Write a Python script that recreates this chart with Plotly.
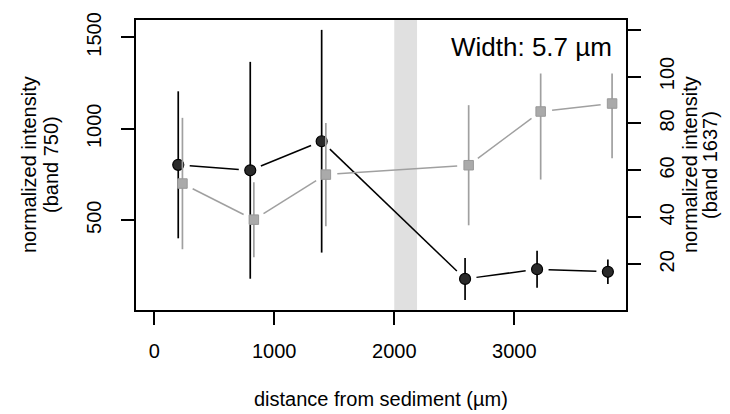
from math import hypot

import plotly.graph_objects as go

# band 750 (left axis), black circles
dist_750 = [200, 800, 1395, 2590, 3190, 3780]
int_750 = [803, 773, 932, 179, 232, 218]
err_750 = [402, 593, 609, 115, 101, 67]

# band 1637 (right axis), grey squares
dist_1637 = [235, 830, 1430, 2620, 3220, 3815]
int_1637 = [54.4, 39.0, 58.2, 62.2, 85.1, 88.5]
err_1637 = [28, 16, 22, 25.6, 29, 23.3]

band_um = [2000, 2190]
x_ticks = [0, 1000, 2000, 3000]
y1_ticks = [500, 1000, 1500]
y2_ticks = [20, 40, 60, 80, 100, 120]
y2_labels = ["20", "40", "60", "80", "100", ""]
width_label = "Width: 5.7 µm"

W, H = 730, 414
L, R, T, B = 136, 104, 14, 104
PW, PH = W - L - R, H - T - B
XR = [-152, 3931]
Y1R = [9, 1595]
Y2R = [0.5, 124.1]
GAP = 11.5  # px left open around each point, like R's type="b"

FONT = "Liberation Sans, Arial, sans-serif"
GREY = "#a0a0a0"


def gapped(xs, ys, yr):
    sx = PW / (XR[1] - XR[0])
    sy = PH / (yr[1] - yr[0])
    gx, gy = [], []
    for x0, y0, x1, y1 in zip(xs, ys, xs[1:], ys[1:]):
        f = GAP / hypot((x1 - x0) * sx, (y1 - y0) * sy)
        gx += [x0 + (x1 - x0) * f, x1 - (x1 - x0) * f, None]
        gy += [y0 + (y1 - y0) * f, y1 - (y1 - y0) * f, None]
    return gx, gy


fig = go.Figure()

lx, ly = gapped(dist_750, int_750, Y1R)
fig.add_scatter(x=lx, y=ly, mode="lines", line=dict(color="black", width=1.5),
                yaxis="y")
fig.add_scatter(x=dist_750, y=int_750, mode="markers", yaxis="y",
                marker=dict(symbol="circle", size=11, color="#2a2a2a",
                            line=dict(color="black", width=1.2)),
                error_y=dict(type="data", array=err_750, width=0,
                             thickness=1.7, color="black"))

gx, gy = gapped(dist_1637, int_1637, Y2R)
fig.add_scatter(x=gx, y=gy, mode="lines", line=dict(color=GREY, width=1.5),
                yaxis="y2")
fig.add_scatter(x=dist_1637, y=int_1637, mode="markers", yaxis="y2",
                marker=dict(symbol="square", size=9.5, color="#aaaaaa",
                            line=dict(color="#999999", width=1)),
                error_y=dict(type="data", array=err_1637, width=0,
                             thickness=1.7, color=GREY))

fig.add_shape(type="rect", x0=band_um[0], x1=band_um[1], y0=0, y1=1,
              xref="x", yref="paper", fillcolor="#e0e0e0",
              line=dict(width=0), layer="below")

axis_common = dict(showgrid=False, zeroline=False, showline=True,
                   linecolor="black", linewidth=1.7, ticks="outside",
                   ticklen=13, tickwidth=1.7, tickcolor="black",
                   tickfont=dict(family=FONT, size=20, color="black"))

fig.update_layout(
    width=W, height=H, margin=dict(l=L, r=R, t=T, b=B),
    plot_bgcolor="white", paper_bgcolor="white", showlegend=False,
    xaxis=dict(range=XR, tickvals=x_ticks, mirror=True,
               ticklabelstandoff=9, **axis_common),
    yaxis=dict(range=Y1R, tickvals=y1_ticks, mirror=True, tickangle=-90,
               ticklabelstandoff=12, **axis_common),
    yaxis2=dict(range=Y2R, tickvals=y2_ticks, ticktext=y2_labels,
                overlaying="y", side="right", tickangle=-90,
                ticklabelstandoff=9, **axis_common),
)

title_font = dict(family=FONT, size=20, color="black")
for text, dx in [("normalized intensity", -107), ("(band 750)", -85)]:
    fig.add_annotation(text=text, xref="paper", yref="paper", x=0, y=0.5,
                       xshift=dx, textangle=-90, showarrow=False,
                       xanchor="center", yanchor="middle", font=title_font)
for text, dx in [("normalized intensity", 64), ("(band 1637)", 84)]:
    fig.add_annotation(text=text, xref="paper", yref="paper", x=1, y=0.5,
                       xshift=dx, textangle=-90, showarrow=False,
                       xanchor="center", yanchor="middle", font=title_font)
fig.add_annotation(text="distance from sediment (µm)", xref="paper",
                   yref="paper", x=0.5, y=0, yshift=-89, showarrow=False,
                   xanchor="center", yanchor="middle", font=title_font)

fig.add_annotation(text=width_label, xref="paper", yref="paper", x=1, y=1,
                   xanchor="right", yanchor="top", xshift=-2, showarrow=False,
                   bgcolor="white", borderpad=11,
                   font=dict(family=FONT, size=26, color="black"))

# drop the browser's default 8px body margin so the figure sits at 0,0
fig.write_html("out.html", config={"displayModeBar": False},
               post_script="document.body.style.margin='0';")
